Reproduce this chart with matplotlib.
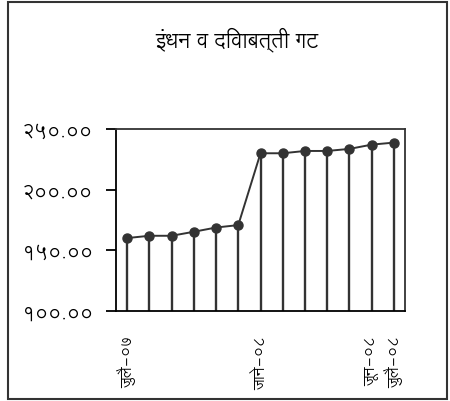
import matplotlib
matplotlib.use("Agg")
import matplotlib.pyplot as plt
from matplotlib.patches import Rectangle

FONT = ["Lohit Devanagari", "DejaVu Sans"]
plt.rcParams['font.family'] = FONT

title = "इंधन व दिवाबत्ती गट"
values = [160.1, 162.0, 162.0, 165.3, 168.8, 170.8, 230.0, 230.0, 231.9, 231.9, 233.6, 237.1, 238.8]
x_labels = ["जुलै-०७", "", "", "", "", "", "जाने-०८", "", "", "", "", "जून-०८", "जुलै-०८"]
y_ticks = [100, 150, 200, 250]
y_tick_labels = ["१००.००", "१५०.००", "२००.००", "२५०.००"]

W, H = 450, 402
fig = plt.figure(figsize=(W / 100, H / 100), dpi=100)
ax = fig.add_axes([116 / W, 1 - 312 / H, (405 - 116) / W, (312 - 130) / H])

x = list(range(len(values)))
dark = "#333333"
ax.vlines(x, 100, values, color=dark, lw=1.7, zorder=2)
ax.plot(x, values, color=dark, lw=1.4, marker='o', ms=6.5, zorder=3)

ax.set_xlim(-0.5, len(values) - 0.5)
ax.set_ylim(100, 250)
ax.set_yticks(y_ticks)
ax.set_yticklabels(y_tick_labels, fontsize=14.5)
ax.set_xticks(x)
ax.set_xticklabels(x_labels, rotation=90, fontsize=11, va='top', ha='center')
ax.tick_params(axis='x', length=0, pad=17)
ax.tick_params(axis='y', length=7.5, width=1.3, color='black', pad=9)

for s in ['left', 'bottom']:
    ax.spines[s].set_color('black')
    ax.spines[s].set_linewidth(1.3)
for s in ['top', 'right']:
    ax.spines[s].set_color(dark)
    ax.spines[s].set_linewidth(1.3)

fig.text(237 / W, 1 - 40 / H, title, ha='center', va='center', fontsize=15)

fig.patches.append(Rectangle((8 / W, 1 - 400 / H), (447 - 8) / W, (400 - 3) / H,
                             transform=fig.transFigure, fill=False, edgecolor=dark, lw=1.5))

fig.savefig("out.png", dpi=100)
